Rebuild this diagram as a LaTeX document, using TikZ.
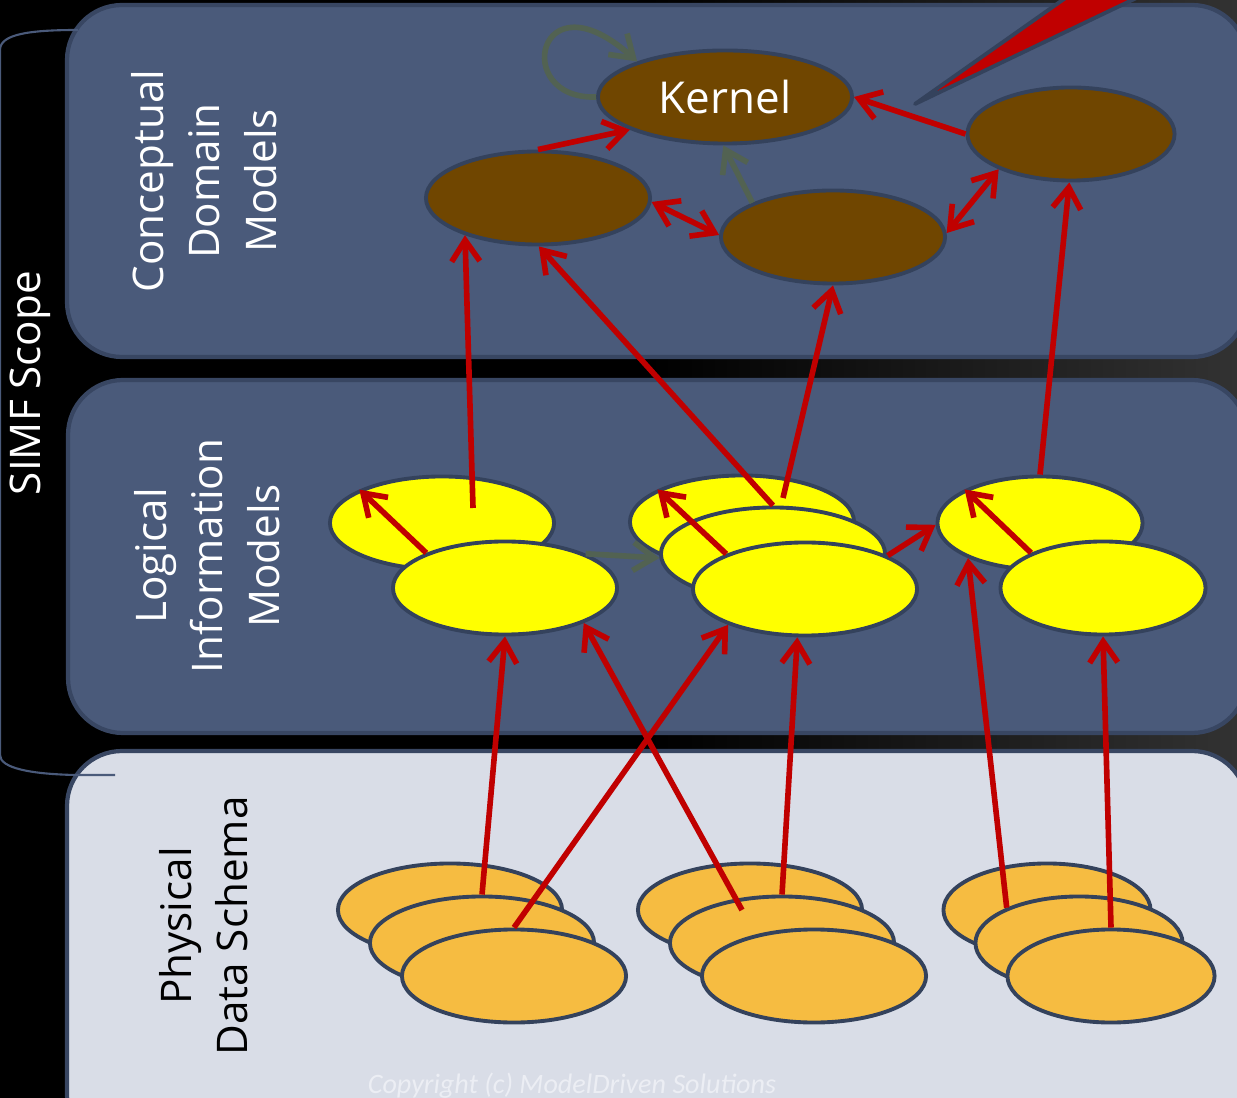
\documentclass[tikz,border=0pt]{standalone}
\usepackage{fontspec}
\setmainfont{Open Sans}
\newfontfamily\copyfont{Carlito}
\usetikzlibrary{shapes,arrows.meta,calc}

\definecolor{bgdark}{RGB}{50,50,50}
\definecolor{panelblue}{RGB}{74,90,122}
\definecolor{paneledge}{RGB}{56,70,98}
\definecolor{panellight}{RGB}{217,221,231}
\definecolor{shapeedge}{RGB}{52,66,92}
\definecolor{cdmbrown}{RGB}{112,70,0}
\definecolor{limyellow}{RGB}{255,255,0}
\definecolor{pdsorange}{RGB}{246,188,65}
\definecolor{linkred}{RGB}{192,0,0}
\definecolor{linkgreen}{RGB}{82,98,82}
\definecolor{copygray}{RGB}{236,238,244}

\begin{document}
\begin{tikzpicture}[x=0.01cm, y=-0.01cm,
  panel/.style={draw=paneledge, line width=1.2pt, rounded corners=0.55cm},
  blob/.style={ellipse, draw=shapeedge, line width=1.1pt, inner sep=0pt, minimum height=0.93cm, minimum width=2.24cm},
  cdm/.style={blob, fill=cdmbrown},
  lim/.style={blob, fill=limyellow},
  pds/.style={blob, fill=pdsorange},
  layer/.style={rotate=90, align=center, font=\fontsize{12}{16}\selectfont},
  link/.style={draw=linkred, line width=1.6pt, -{Straight Barb[length=6pt,width=8pt]}},
  duallink/.style={link, {Straight Barb[length=6pt,width=8pt]}-{Straight Barb[length=6pt,width=8pt]}},
  greylink/.style={link, draw=linkgreen}]

\useasboundingbox (0,0) rectangle (1237,1098);
\clip (0,0) rectangle (1237,1098);
\fill[black] (0,0) rectangle (1237,1098);
\shade[left color=black, right color=bgdark] (650,0) rectangle (1237,1098);

% layers
\draw[panel, fill=panelblue] (67,5) rectangle (1247,357);
\draw[panel, fill=panelblue] (68,380) rectangle (1247,733);
\draw[panel, fill=panellight] (67,751) rectangle (1247,1150);

\draw[panelblue, line width=0.6pt] (78,30) .. controls (30,30) and (0,34) .. (0,50) -- (0,755)
  .. controls (0,768) and (30,774) .. (75,775) -- (115,775);

\node[layer, text=white] (scopeLabel) at (30,383) {SIMF Scope};
\node[layer, text=white] (cdmLabel) at (204,181) {Conceptual\\Domain\\Models};
\node[layer, text=white] (limLabel) at (207,556) {Logical\\Information\\Models};
\node[layer, text=black] (pdsLabel) at (204,926) {Physical\\Data Schema};

% conceptual
\node[cdm, minimum width=2.54cm, text=white, font=\fontsize{12.5}{15}\selectfont] (cdmKernel) at (725,97) {Kernel};
\node[cdm] (cdmLeft) at (538,198) {};
\node[cdm] (cdmMid) at (833,237) {};
\node[cdm, minimum width=2.07cm] (cdmRight) at (1071,134) {};

% logical
\node[lim] (limA1) at (442,523) {};
\node[lim] (limA2) at (505,588) {};
\node[lim] (limB1) at (742,522) {};
\node[lim] (limB2) at (773,554) {};
\node[lim] (limB3) at (805,589) {};
\node[lim, minimum width=2.05cm] (limC1) at (1040,523) {};
\node[lim, minimum width=2.05cm] (limC2) at (1103,588) {};

% physical
\foreach \g/\x/\w in {A/450/2.24cm, B/750/2.24cm, C/1047/2.07cm} {
  \node[pds, minimum width=\w] (pds\g1) at (\x,910) {};
  \node[pds, minimum width=\w] (pds\g2) at (\x+32,943) {};
  \node[pds, minimum width=\w] (pds\g3) at (\x+64,976) {};
}

\draw[greylink] (cdmKernel.180) .. controls +(-85,3) and +(-100,-90) .. (cdmKernel.158);
\draw[greylink] (cdmMid.157) -- (cdmKernel.268);
\draw[greylink] (limA2.23) -- (limB2.182);

\draw[link] (cdmLeft.90) -- (cdmKernel.199);
\draw[link] (cdmRight.180) -- (cdmKernel.0);
\draw[duallink] (cdmLeft.358) -- (cdmMid.179);
\draw[duallink] (cdmMid.2) -- (cdmRight.206);

\draw[link] (limA2.156) -- (limA1.158);
\draw[link] ($(limA1)+(31,-15)$) -- (cdmLeft.207);
\draw[link] (limB3.156) -- (limB1.159);
\draw[link] (limB2.90) -- (cdmLeft.271);
\draw[link] ($(limB1)+(41,-24)$) -- (cdmMid.270);
\draw[link] (limB3.22) -- (limC1.181);
\draw[link] (limC2.154) -- (limC1.156);
\draw[link] (limC1.90) -- (cdmRight.268);

\draw[link] (pdsA2.90) -- (limA2.270);
\draw[link] (pdsA3.90) -- (limB3.205);
\draw[link] ($(pdsB2)+(-40,-33)$) -- (limA2.336);
\draw[link] (pdsB2.90) -- (limB3.261);
\draw[link] (pdsC2.154) -- (limC1.206);
\draw[link] (pdsC3.90) -- (limC2.270);

% callout
\draw[fill=linkred, draw=shapeedge, line width=1.1pt, line join=round] (915,104) -- (1091,-20) -- (1174,-20) -- cycle;

\node[font=\copyfont\itshape\fontsize{8}{10}\selectfont, text=copygray, anchor=base] (copyNote) at (572,1093) {Copyright (c) ModelDriven Solutions};

\end{tikzpicture}
\end{document}
